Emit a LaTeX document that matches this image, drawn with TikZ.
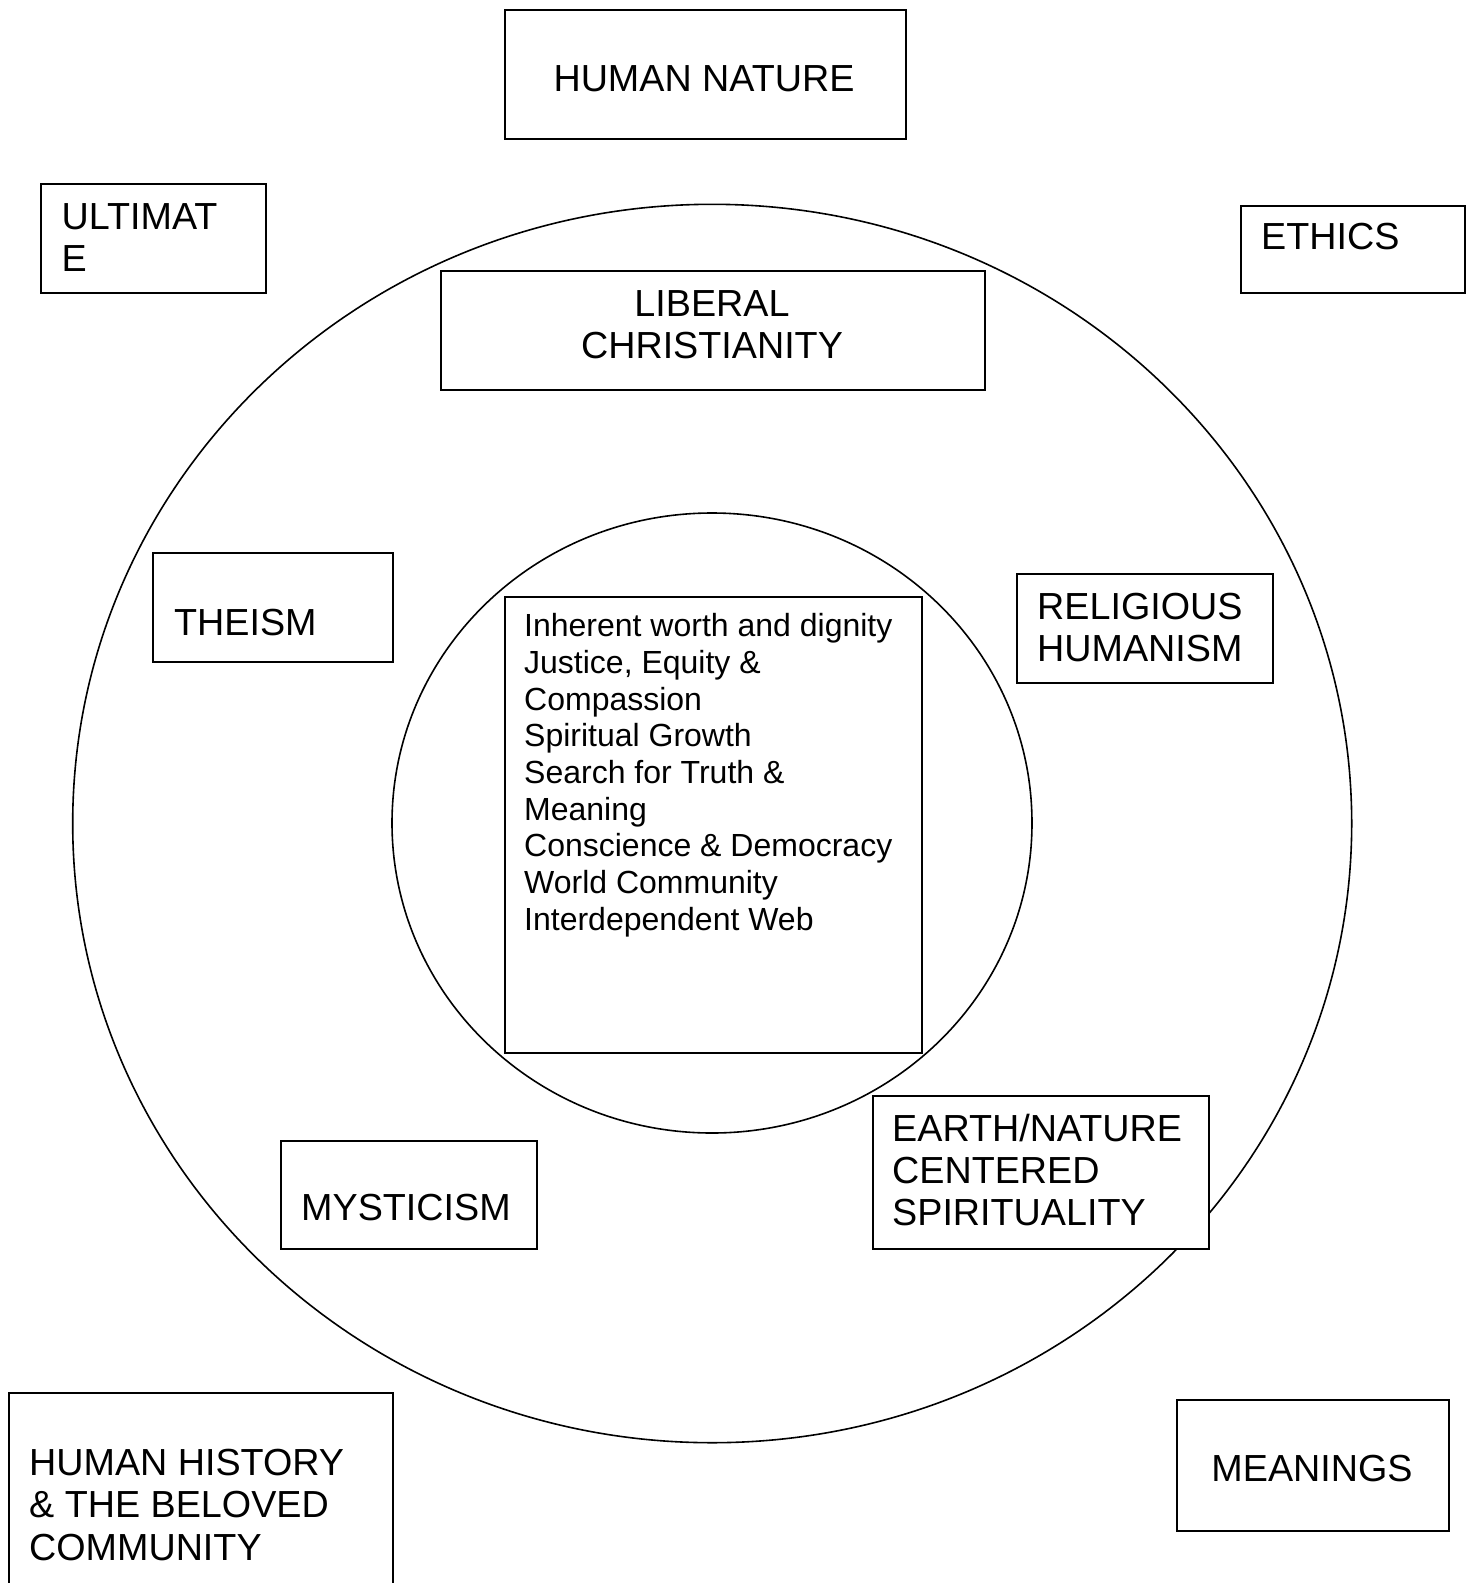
\documentclass[tikz,border=0pt]{standalone}
\usepackage{fontspec}
\setmainfont{Liberation Sans}
\newcommand\bigtext{\fontsize{37.7}{42.4}\selectfont}
\newcommand\smalltext{\fontsize{32}{36.7}\selectfont}

\tikzset{
  frame/.style={draw, rectangle, line width=1.7pt, fill=white, inner sep=0pt, anchor=north west},
  ring/.style={draw, line width=1.6pt},
  lbl/.style={inner sep=0pt, font=\bigtext, align=left, anchor=north west},
  lblone/.style={inner sep=0pt, font=\bigtext, anchor=base west},
  lblmid/.style={inner sep=0pt, font=\bigtext, anchor=base},
  lblsmall/.style={inner sep=0pt, font=\smalltext, align=left, anchor=north west},
}

% a framed box given by its top-left and bottom-right corners
\newcommand\fbx[5]{\node[frame, minimum width={#4-#2}, minimum height={#5-#3}] (#1) at (#2,#3) {};}

\begin{document}
\begin{tikzpicture}[x=1pt, y=-1pt]
  \clip (0,0) rectangle (1473,1583);
  \fill[white] (0,0) rectangle (1473,1583);

  % the two rings
  \draw[ring] (712.2,823.5) ellipse [x radius=639.5, y radius=619.2];
  \draw[ring] (712,823) ellipse [x radius=320, y radius=310];

  % boxes
  \fbx{nature}{504}{9}{905}{138}
  \fbx{ultimate}{40}{183}{265}{292}
  \fbx{ethics}{1240}{205}{1464}{292}
  \fbx{liberal}{440}{270}{984}{389}
  \fbx{theism}{152}{552}{392}{661}
  \fbx{humanism}{1016}{573}{1272}{682}
  \fbx{principles}{504}{596}{921}{1052}
  \fbx{mysticism}{280}{1140}{536}{1248}
  \fbx{earth}{872}{1095}{1208}{1248}
  \fbx{history}{8}{1392}{392}{1620}
  \fbx{meanings}{1176}{1399}{1448}{1530}

  % labels
  \node[lblmid] (nature-t) at (704,91) {HUMAN NATURE};
  \node[lbl] (ultimate-t) at (61.5,199.3) {\strut ULTIMAT\\E};
  \node[lblone] (ethics-t) at (1261,249) {ETHICS};
  \node[lbl, align=center, anchor=north] (liberal-t) at (712,286.3) {\strut LIBERAL\\CHRISTIANITY};
  \node[lblone] (theism-t) at (174,635) {THEISM};
  \node[lbl] (humanism-t) at (1037,589.3) {\strut RELIGIOUS\\HUMANISM};
  \node[lblsmall] (principles-t) at (524,610.8) {\strut Inherent worth and dignity\\
    Justice, Equity \&\\Compassion\\Spiritual Growth\\Search for Truth \&\\Meaning\\
    Conscience \& Democracy\\World Community\\Interdependent Web};
  \node[lblone] (mysticism-t) at (301,1220) {MYSTICISM};
  \node[lbl] (earth-t) at (892,1111.3) {\strut EARTH/NATURE\\CENTERED\\SPIRITUALITY};
  \node[lbl] (history-t) at (29,1445.3) {\strut HUMAN HISTORY\\\& THE BELOVED\\COMMUNITY};
  \node[lblmid] (meanings-t) at (1312,1481) {MEANINGS};
\end{tikzpicture}
\end{document}
